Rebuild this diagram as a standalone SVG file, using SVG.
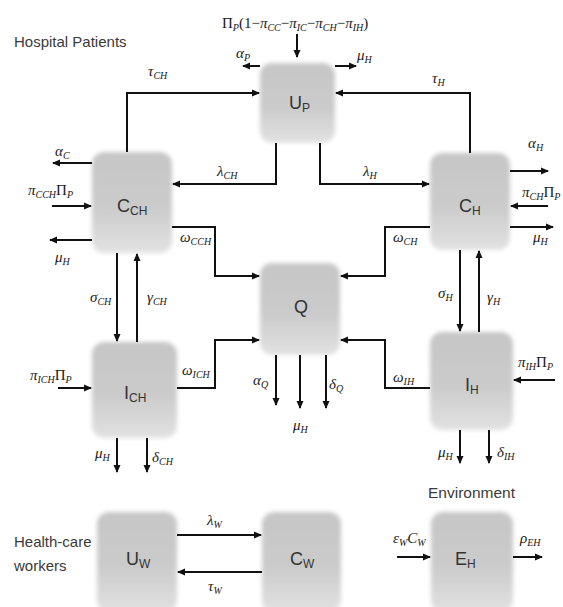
<svg xmlns="http://www.w3.org/2000/svg" width="563" height="607" viewBox="0 0 563 607">
<style>
.bg{fill:#ffffff}
.box{fill:url(#gb);filter:url(#soft)}
.cn{fill:none;stroke:#111;stroke-width:2}
.ar{marker-end:url(#ah)}
.m{font-family:"Liberation Serif","DejaVu Serif",serif;font-style:italic;font-size:15px;fill:#1a1a1a}
.u{font-style:normal}
.s{font-size:10px}
.b{font-family:"Liberation Sans",Arial,sans-serif;font-size:18px;fill:#333}
.bs{font-size:12px}
.h{font-family:"Liberation Sans",Arial,sans-serif;font-size:15px;fill:#3a3a3a}
</style>
<defs>
<linearGradient id="gb" x1="0" y1="0" x2="0" y2="1">
<stop offset="0" stop-color="#c6c6c6"/>
<stop offset="0.55" stop-color="#cbcbcb"/>
<stop offset="1" stop-color="#e2e2e2"/>
</linearGradient>
<filter id="soft" x="-10%" y="-10%" width="120%" height="120%"><feGaussianBlur stdDeviation="2"/></filter>
<marker id="ah" markerWidth="8" markerHeight="8" refX="7" refY="4" orient="auto" markerUnits="userSpaceOnUse"><path d="M0,0.5 L8,4 L0,7.5 z" fill="#111"/></marker>
</defs>
<rect class="bg" x="0" y="0" width="563" height="607"/>

<text class="h" x="14" y="47">Hospital Patients</text>
<text class="h" x="428" y="498" style="font-size:15.5px">Environment</text>
<text class="h" x="14" y="547">Health-care</text>
<text class="h" x="14" y="571">workers</text>

<g id="U_P"><rect class="box" x="260" y="63" width="75" height="80" rx="12"/><text class="b" x="289" y="109">U<tspan class="bs" dy="3">P</tspan></text></g>
<g id="C_CH"><rect class="box" x="92" y="152" width="80" height="101" rx="12"/><text class="b" x="117" y="212">C<tspan class="bs" dy="3">CH</tspan></text></g>
<g id="C_H"><rect class="box" x="430" y="153" width="80" height="97" rx="12"/><text class="b" x="459" y="212">C<tspan class="bs" dy="3">H</tspan></text></g>
<g id="Q"><rect class="box" x="260" y="263" width="80" height="92" rx="12"/><text class="b" x="294" y="313">Q</text></g>
<g id="I_CH"><rect class="box" x="92" y="342" width="85" height="96" rx="12"/><text class="b" x="124" y="399">I<tspan class="bs" dy="3">CH</tspan></text></g>
<g id="I_H"><rect class="box" x="430" y="332" width="83" height="98" rx="12"/><text class="b" x="465" y="391">I<tspan class="bs" dy="3">H</tspan></text></g>
<g id="U_W"><rect class="box" x="97" y="512" width="80" height="100" rx="12"/><text class="b" x="126" y="565">U<tspan class="bs" dy="3">W</tspan></text></g>
<g id="C_W"><rect class="box" x="262" y="512" width="79" height="100" rx="12"/><text class="b" x="290" y="565">C<tspan class="bs" dy="3">W</tspan></text></g>
<g id="E_H"><rect class="box" x="431" y="512" width="82" height="100" rx="12"/><text class="b" x="455" y="565">E<tspan class="bs" dy="3">H</tspan></text></g>

<g id="connectors">
<path class="cn ar" d="M297,34 V57"/>
<path class="cn ar" d="M260,66 H243"/>
<path class="cn ar" d="M335,66 H356"/>
<path class="cn ar" d="M127,152 V93 H259"/>
<path class="cn ar" d="M470,153 V93 H336"/>
<path class="cn ar" d="M276,143 V184 H173"/>
<path class="cn ar" d="M320,143 V184 H429"/>
<path class="cn ar" d="M92,163 H53"/>
<path class="cn ar" d="M52,206 H91"/>
<path class="cn ar" d="M92,240 H50"/>
<path class="cn ar" d="M510,171 H548"/>
<path class="cn ar" d="M548,206 H511"/>
<path class="cn ar" d="M510,227 H553"/>
<path class="cn ar" d="M172,227 H215 V276 H259"/>
<path class="cn ar" d="M430,227 H385 V276 H341"/>
<path class="cn ar" d="M177,388 H215 V340 H259"/>
<path class="cn ar" d="M430,388 H385 V340 H341"/>
<path class="cn ar" d="M117,253 V341"/>
<path class="cn ar" d="M137,342 V254"/>
<path class="cn ar" d="M460,250 V331"/>
<path class="cn ar" d="M479,332 V251"/>
<path class="cn ar" d="M276,355 V405"/>
<path class="cn ar" d="M300,355 V408"/>
<path class="cn ar" d="M326,355 V408"/>
<path class="cn ar" d="M58,388 H91"/>
<path class="cn ar" d="M555,380 H514"/>
<path class="cn ar" d="M117,438 V472"/>
<path class="cn ar" d="M147,438 V472"/>
<path class="cn ar" d="M460,430 V463"/>
<path class="cn ar" d="M489,430 V463"/>
<path class="cn ar" d="M177,535 H261"/>
<path class="cn ar" d="M262,572 H178"/>
<path class="cn ar" d="M397,557 H430"/>
<path class="cn ar" d="M513,557 H542"/>
</g>

<g id="labels">
<text class="m" x="222" y="28"><tspan class="u">Π</tspan><tspan class="s" dy="3">P</tspan><tspan class="u" dy="-3">(1−</tspan>π<tspan class="s" dy="3">CC</tspan><tspan class="u" dy="-3">−</tspan>π<tspan class="s" dy="3">IC</tspan><tspan class="u" dy="-3">−</tspan>π<tspan class="s" dy="3">CH</tspan><tspan class="u" dy="-3">−</tspan>π<tspan class="s" dy="3">IH</tspan><tspan class="u" dy="-3">)</tspan></text>
<text class="m" x="236" y="58">α<tspan class="s" dy="3">P</tspan></text>
<text class="m" x="357" y="60">μ<tspan class="s" dy="3">H</tspan></text>
<text class="m" x="148" y="76">τ<tspan class="s" dy="3">CH</tspan></text>
<text class="m" x="432" y="83">τ<tspan class="s" dy="3">H</tspan></text>
<text class="m" x="217" y="176">λ<tspan class="s" dy="3">CH</tspan></text>
<text class="m" x="363" y="176">λ<tspan class="s" dy="3">H</tspan></text>
<text class="m" x="55" y="156">α<tspan class="s" dy="3">C</tspan></text>
<text class="m" x="28" y="195">π<tspan class="s" dy="3">CCH</tspan><tspan class="u" dy="-3">Π</tspan><tspan class="s" dy="3">P</tspan></text>
<text class="m" x="55" y="262">μ<tspan class="s" dy="3">H</tspan></text>
<text class="m" x="180" y="242">ω<tspan class="s" dy="3">CCH</tspan></text>
<text class="m" x="528" y="148">α<tspan class="s" dy="3">H</tspan></text>
<text class="m" x="522" y="197">π<tspan class="s" dy="3">CH</tspan><tspan class="u" dy="-3">Π</tspan><tspan class="s" dy="3">P</tspan></text>
<text class="m" x="533" y="242">μ<tspan class="s" dy="3">H</tspan></text>
<text class="m" x="393" y="242">ω<tspan class="s" dy="3">CH</tspan></text>
<text class="m" x="90" y="302">σ<tspan class="s" dy="3">CH</tspan></text>
<text class="m" x="147" y="302">γ<tspan class="s" dy="3">CH</tspan></text>
<text class="m" x="30" y="380">π<tspan class="s" dy="3">ICH</tspan><tspan class="u" dy="-3">Π</tspan><tspan class="s" dy="3">P</tspan></text>
<text class="m" x="182" y="375">ω<tspan class="s" dy="3">ICH</tspan></text>
<text class="m" x="253" y="385">α<tspan class="s" dy="3">Q</tspan></text>
<text class="m" x="329" y="389">δ<tspan class="s" dy="3">Q</tspan></text>
<text class="m" x="293" y="430">μ<tspan class="s" dy="3">H</tspan></text>
<text class="m" x="438" y="298">σ<tspan class="s" dy="3">H</tspan></text>
<text class="m" x="487" y="302">γ<tspan class="s" dy="3">H</tspan></text>
<text class="m" x="393" y="382">ω<tspan class="s" dy="3">IH</tspan></text>
<text class="m" x="518" y="367">π<tspan class="s" dy="3">IH</tspan><tspan class="u" dy="-3">Π</tspan><tspan class="s" dy="3">P</tspan></text>
<text class="m" x="95" y="458">μ<tspan class="s" dy="3">H</tspan></text>
<text class="m" x="152" y="462">δ<tspan class="s" dy="3">CH</tspan></text>
<text class="m" x="438" y="457">μ<tspan class="s" dy="3">H</tspan></text>
<text class="m" x="497" y="457">δ<tspan class="s" dy="3">IH</tspan></text>
<text class="m" x="207" y="525">λ<tspan class="s" dy="3">W</tspan></text>
<text class="m" x="208" y="591">τ<tspan class="s" dy="3">W</tspan></text>
<text class="m" x="393" y="543">ε<tspan class="s" dy="3">W</tspan><tspan dy="-3">C</tspan><tspan class="s" dy="3">W</tspan></text>
<text class="m" x="520" y="543">ρ<tspan class="s" dy="3">EH</tspan></text>
</g>
</svg>
